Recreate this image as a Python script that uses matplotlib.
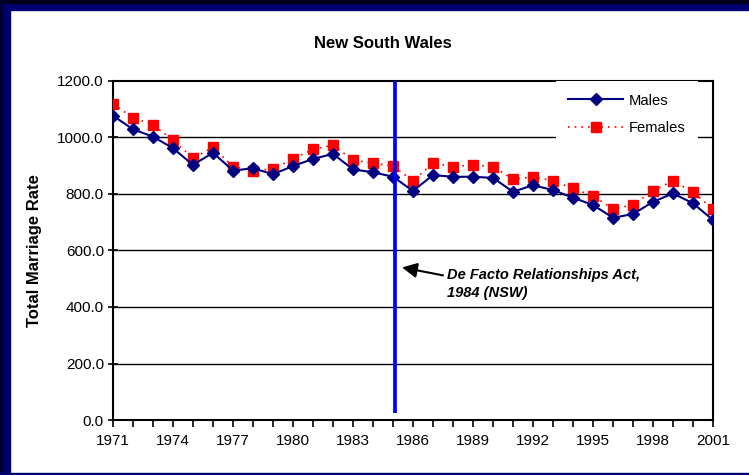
import matplotlib
matplotlib.use("Agg")
import matplotlib.pyplot as plt
from matplotlib.patches import Rectangle
import numpy as np

plt.rcParams['font.family'] = ['Liberation Sans', 'DejaVu Sans']

years = list(range(1971, 2002))
males = [1077, 1029, 1003, 962, 903, 946, 883, 891, 870, 899, 924, 942, 887, 877, 861,
         811, 867, 861, 861, 857, 808, 831, 814, 787, 761, 716, 729, 772, 802, 767, 708]
females = [1119, 1070, 1045, 991, 927, 965, 897, 883, 888, 924, 958, 973, 920, 909, 899,
           847, 909, 897, 903, 897, 852, 861, 847, 820, 793, 747, 762, 811, 847, 806, 747]
yticks = [0, 200, 400, 600, 800, 1000, 1200]
xtick_labels = list(range(1971, 2002, 3))
act_year = 1985.1

W, H = 749, 475
fig = plt.figure(figsize=(W / 100, H / 100), dpi=100)
fig.patch.set_facecolor('white')

# Border frame
navy = '#000070'
fig.add_artist(Rectangle((0, 0), 10 / W, 1, transform=fig.transFigure, color=navy, zorder=0))
fig.add_artist(Rectangle((0, 1 - 10 / H), 1, 10 / H, transform=fig.transFigure, color=navy, zorder=0))
fig.add_artist(Rectangle((0, 1 - 3 / H), 1, 3 / H, transform=fig.transFigure, color='#000018', zorder=0))
fig.add_artist(Rectangle((0, 0), 2 / W, 1, transform=fig.transFigure, color='#000030', zorder=0))
fig.add_artist(Rectangle((0, 0), 1, 2 / H, transform=fig.transFigure, color=navy, zorder=0))

ax = fig.add_axes([113 / W, 1 - 420 / H, 600 / W, 339 / H])
ax.set_xlim(1971, 2001)
ax.set_ylim(0, 1200)

for v in yticks[1:-1]:
    ax.axhline(v, color='black', lw=1.0, zorder=1)

ax.plot(years, males, color='#000080', lw=1.5, marker='D', markersize=6.5,
        label='Males', zorder=4)
ax.plot(years, females, color='#FF0000', lw=1.2, ls=(0, (1, 3)), marker='s',
        markersize=7, label='Females', zorder=3)

ax.plot([act_year, act_year], [25, 1200], color='#0000FF', lw=2.7, zorder=5,
        solid_capstyle='butt')

ax.annotate('', xy=(1985.45, 540), xytext=(1987.5, 512),
            arrowprops=dict(arrowstyle='-|>,head_length=0.9,head_width=0.45',
                            color='black', lw=1.5, shrinkA=0, shrinkB=0))
ax.text(1987.7, 537, 'De Facto Relationships Act,\n1984 (NSW)', fontsize=10.5,
        fontweight='bold', fontstyle='italic', ha='left', va='top',
        linespacing=1.3, transform=ax.transData)

ax.set_yticks(yticks)
ax.set_yticklabels([f'{v:.1f}' for v in yticks])
ax.set_xticks(xtick_labels)
ax.set_xticklabels([str(y) for y in xtick_labels])
ax.set_xticks(years, minor=True)
ax.tick_params(axis='y', direction='inout', length=7, width=1.2, labelsize=11, pad=3)
ax.tick_params(axis='x', which='both', direction='out', length=5, width=1.2, labelsize=11, pad=5)

for s in ax.spines.values():
    s.set_linewidth(1.5)
    s.set_color('black')

fig.text(383 / W, 1 - 44 / H, 'New South Wales', fontsize=12, fontweight='bold',
         ha='center', va='center')
fig.text(35 / W, 1 - 251 / H, 'Total Marriage Rate', fontsize=12, fontweight='bold',
         ha='center', va='center', rotation=90)

leg = ax.legend(loc='upper right', bbox_to_anchor=(698 / W, 1 - 81 / H),
                bbox_transform=fig.transFigure, frameon=True, fancybox=False,
                facecolor='white', edgecolor='none', framealpha=1, fontsize=10.6,
                handlelength=3.7, handletextpad=0.4, labelspacing=0.95,
                borderpad=0.85, borderaxespad=0)
leg.set_zorder(6)

fig.savefig('out.png', dpi=100)
